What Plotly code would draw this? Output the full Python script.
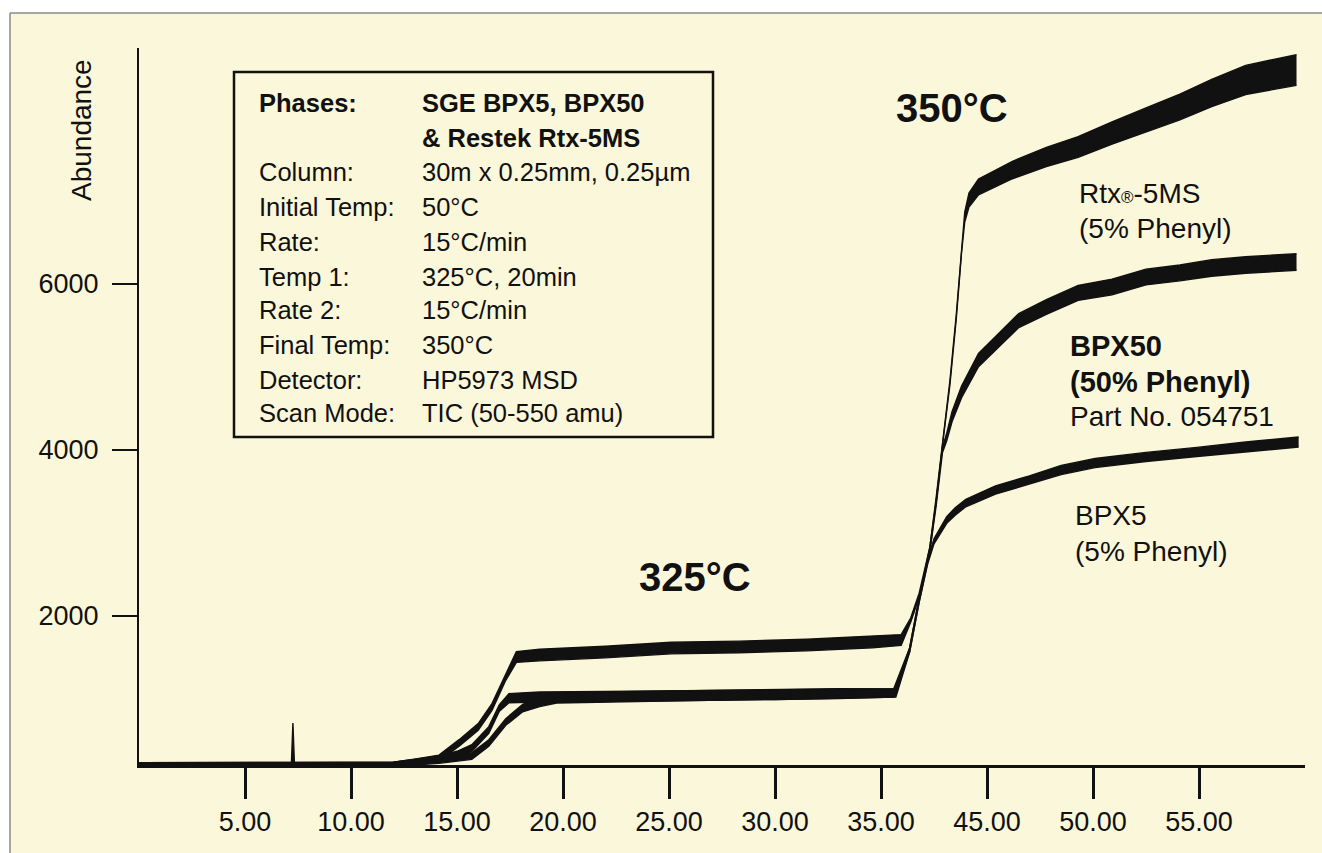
import plotly.graph_objects as go

# ---------------- data ----------------
# positions on the printed, evenly spaced time axis and the labels printed there
X_TICK_VALS = [5, 10, 15, 20, 25, 30, 35, 40, 45, 50]
X_TICK_TEXT = ["5.00", "10.00", "15.00", "20.00", "25.00", "30.00",
               "35.00", "45.00", "50.00", "55.00"]
Y_TICK_VALS = [2000, 4000, 6000]
Y_TICK_TEXT = ["2000", "4000", "6000"]

# BPX5 (5% Phenyl): x, centre abundance, half-width of the noise band
BPX5_X = [0, 7.19, 7.26, 7.33, 12.0, 13.0, 14.15, 15.0, 15.7, 16.5, 17.0, 17.45,
          18.9, 22.0, 26.0, 30.0, 33.0, 35.6, 36.35, 36.8, 37.2, 37.5, 38.1,
          38.5, 39.0, 40.4, 42.0, 43.5, 45.1, 47.5, 49.9, 52.2, 54.7]
BPX5_Y = [215, 215, 460, 215, 218, 240, 280, 330, 410, 627, 892, 1010,
          1024, 1030, 1040, 1055, 1065, 1075, 1590, 2193, 2650, 2900, 3157,
          3260, 3361, 3518, 3639, 3759, 3843, 3916, 3976, 4036, 4096]
BPX5_BAND = [18, 18, 250, 18, 20, 30, 35, 40, 40, 40, 40, 55,
             60, 60, 60, 60, 60, 50, 25, 25, 25, 30, 40,
             45, 45, 50, 50, 55, 55, 55, 55, 60, 60]

# Rtx-5MS (5% Phenyl)
RTX_X = [0, 12.0, 13.0, 14.15, 15.0, 15.7, 16.5, 17.3, 18.1, 18.9, 19.7, 22.0,
         26.0, 30.0, 33.0, 35.7, 36.35, 36.8, 37.3, 37.6, 37.9, 38.25, 38.55,
         38.8, 38.95, 39.15, 39.6, 41.2, 42.8, 44.3, 45.9, 47.5, 49.1, 50.6,
         52.2, 54.6]
RTX_Y = [215, 218, 235, 260, 290, 313, 470, 723, 892, 964, 1012, 1025,
         1040, 1055, 1065, 1072, 1590, 2193, 2795, 3398, 4085, 4808, 5603,
         6410, 6807, 7012, 7169, 7373, 7530, 7651, 7819, 7976, 8133, 8301,
         8458, 8578]
RTX_BAND = [18, 20, 30, 35, 35, 40, 40, 40, 45, 55, 60, 60,
            60, 60, 60, 50, 25, 25, 25, 25, 25, 25, 25,
            30, 60, 85, 95, 105, 115, 125, 135, 145, 155, 165,
            175, 185]

# BPX50 (50% Phenyl)
BPX50_X = [0, 12.0, 13.0, 14.15, 15.1, 16.0, 16.65, 17.3, 17.8, 18.9, 22.0,
           25.1, 28.3, 31.5, 34.6, 35.95, 36.4, 36.8, 37.3, 37.6, 37.9, 38.1,
           38.35, 38.8, 39.6, 40.9, 41.5, 42.8, 44.3, 45.9, 47.5, 49.1, 50.6,
           52.2, 54.6]
BPX50_Y = [215, 220, 245, 289, 470, 663, 904, 1265, 1506, 1530, 1566,
           1614, 1627, 1650, 1687, 1711, 1950, 2250, 2800, 3350, 4000, 4157,
           4400, 4700, 5084, 5410, 5560, 5723, 5892, 5964, 6084, 6133, 6193,
           6229, 6265]
BPX50_BAND = [18, 20, 30, 35, 40, 40, 40, 40, 65, 70, 70,
              70, 70, 70, 70, 65, 25, 25, 25, 25, 30, 45,
              60, 70, 80, 85, 85, 90, 90, 95, 95, 95, 100,
              100, 100]

# method box text: (left, right, bold)
METHOD_ROWS = [
    ("Phases:", "SGE BPX5, BPX50", True),
    ("", "& Restek Rtx-5MS", True),
    ("Column:", "30m x 0.25mm, 0.25µm", False),
    ("Initial Temp:", "50°C", False),
    ("Rate:", "15°C/min", False),
    ("Temp 1:", "325°C, 20min", False),
    ("Rate 2:", "15°C/min", False),
    ("Final Temp:", "350°C", False),
    ("Detector:", "HP5973 MSD", False),
    ("Scan Mode:", "TIC (50-550 amu)", False),
]

# ---------------- layout geometry ----------------
W, H = 1322, 853
ML, MR, MT, MB = 139, 17, 48, 88
PW, PH = W - ML - MR, H - MT - MB
X_RANGE = [0, 55]
Y_RANGE = [205, 8843]

BG = "#FBF7DA"
INK = "#111111"
FONT = "Liberation Sans, Arial, sans-serif"


def fx(px):
    return (px - ML) / PW


def fy(py):
    return (MT + PH - py) / PH


fig = go.Figure()


def add_band(xs, ys, band, name):
    lo = [y - b for y, b in zip(ys, band)]
    hi = [y + b for y, b in zip(ys, band)]
    fig.add_trace(go.Scatter(x=xs, y=lo, mode="lines", name=name,
                             line=dict(color=INK, width=1.4),
                             showlegend=False, hoverinfo="skip"))
    fig.add_trace(go.Scatter(x=xs, y=hi, mode="lines", name=name,
                             line=dict(color=INK, width=1.4),
                             fill="tonexty", fillcolor=INK,
                             showlegend=False))


add_band(BPX5_X, BPX5_Y, BPX5_BAND, "BPX5")
add_band(RTX_X, RTX_Y, RTX_BAND, "Rtx-5MS")
add_band(BPX50_X, BPX50_Y, BPX50_BAND, "BPX50")

shapes = [
    # white margin + thin grey frame line of the scanned panel
    dict(type="rect", xref="paper", yref="paper", x0=fx(0), x1=fx(W),
         y0=fy(13), y1=fy(0), fillcolor="white", line=dict(width=0), layer="below"),
    dict(type="rect", xref="paper", yref="paper", x0=fx(0), x1=fx(10),
         y0=fy(H), y1=fy(0), fillcolor="white", line=dict(width=0), layer="below"),
    dict(type="line", xref="paper", yref="paper", x0=fx(10), x1=fx(W),
         y0=fy(13), y1=fy(13), line=dict(color="#8a8a8a", width=1.5)),
    dict(type="line", xref="paper", yref="paper", x0=fx(10), x1=fx(10),
         y0=fy(13), y1=fy(H), line=dict(color="#8a8a8a", width=1.5)),
    # method box
    dict(type="rect", xref="paper", yref="paper", x0=fx(234), x1=fx(713),
         y0=fy(437), y1=fy(72), line=dict(color=INK, width=2.5),
         fillcolor="rgba(0,0,0,0)"),
]

ann = []
row_y = [103, 138, 172, 207, 242, 277, 310, 345, 380, 413]
for (left, right, bold), py in zip(METHOD_ROWS, row_y):
    for txt, px in ((left, 257), (right, 420)):
        if not txt:
            continue
        t = f"<b>{txt}</b>" if bold else txt
        ann.append(dict(x=fx(px), y=fy(py), xref="paper", yref="paper",
                        text=t, showarrow=False, xanchor="left", yanchor="middle",
                        font=dict(size=25.5, color=INK, family=FONT)))

labels = [
    ("<b>325°C</b>", 695, 577, 40, "center"),
    ("<b>350°C</b>", 952, 108, 40, "center"),
    ("Rtx<span style='font-size:17px'>®</span>-5MS", 1077, 193, 28, "left"),
    ("(5% Phenyl)", 1077, 228, 28, "left"),
    ("<b>BPX50</b>", 1068, 346, 29, "left"),
    ("<b>(50% Phenyl)</b>", 1068, 382, 29, "left"),
    ("Part No. 054751", 1068, 416, 28, "left"),
    ("BPX5", 1073, 515, 28, "left"),
    ("(5% Phenyl)", 1073, 551, 28, "left"),
]
for txt, px, py, size, anchor in labels:
    ann.append(dict(x=fx(px), y=fy(py), xref="paper", yref="paper",
                    text=txt, showarrow=False, xanchor=anchor, yanchor="middle",
                    font=dict(size=size, color=INK, family=FONT)))

ann.append(dict(x=fx(82), y=fy(130), xref="paper", yref="paper",
                text="Abundance", textangle=-90, showarrow=False,
                xanchor="center", yanchor="middle",
                font=dict(size=28, color=INK, family=FONT)))

fig.update_layout(
    width=W, height=H,
    margin=dict(l=ML, r=MR, t=MT, b=MB, pad=0),
    paper_bgcolor=BG, plot_bgcolor=BG,
    font=dict(family=FONT, color=INK),
    shapes=shapes, annotations=ann,
    xaxis=dict(range=X_RANGE, tickvals=X_TICK_VALS, ticktext=X_TICK_TEXT,
               showgrid=False, zeroline=False, showline=True,
               linecolor=INK, linewidth=3, ticks="outside", ticklen=31,
               tickwidth=2.5, tickcolor=INK, tickfont=dict(size=27, color=INK),
               fixedrange=True),
    yaxis=dict(range=Y_RANGE, tickvals=Y_TICK_VALS, ticktext=Y_TICK_TEXT,
               showgrid=False, zeroline=False, showline=True,
               linecolor=INK, linewidth=2.2, ticks="outside", ticklen=25,
               tickwidth=1.5, tickcolor=INK, tickfont=dict(size=27, color=INK),
               ticklabelstandoff=8, fixedrange=True),
    showlegend=False,
)

fig.write_html("out.html", config={"displayModeBar": False})
